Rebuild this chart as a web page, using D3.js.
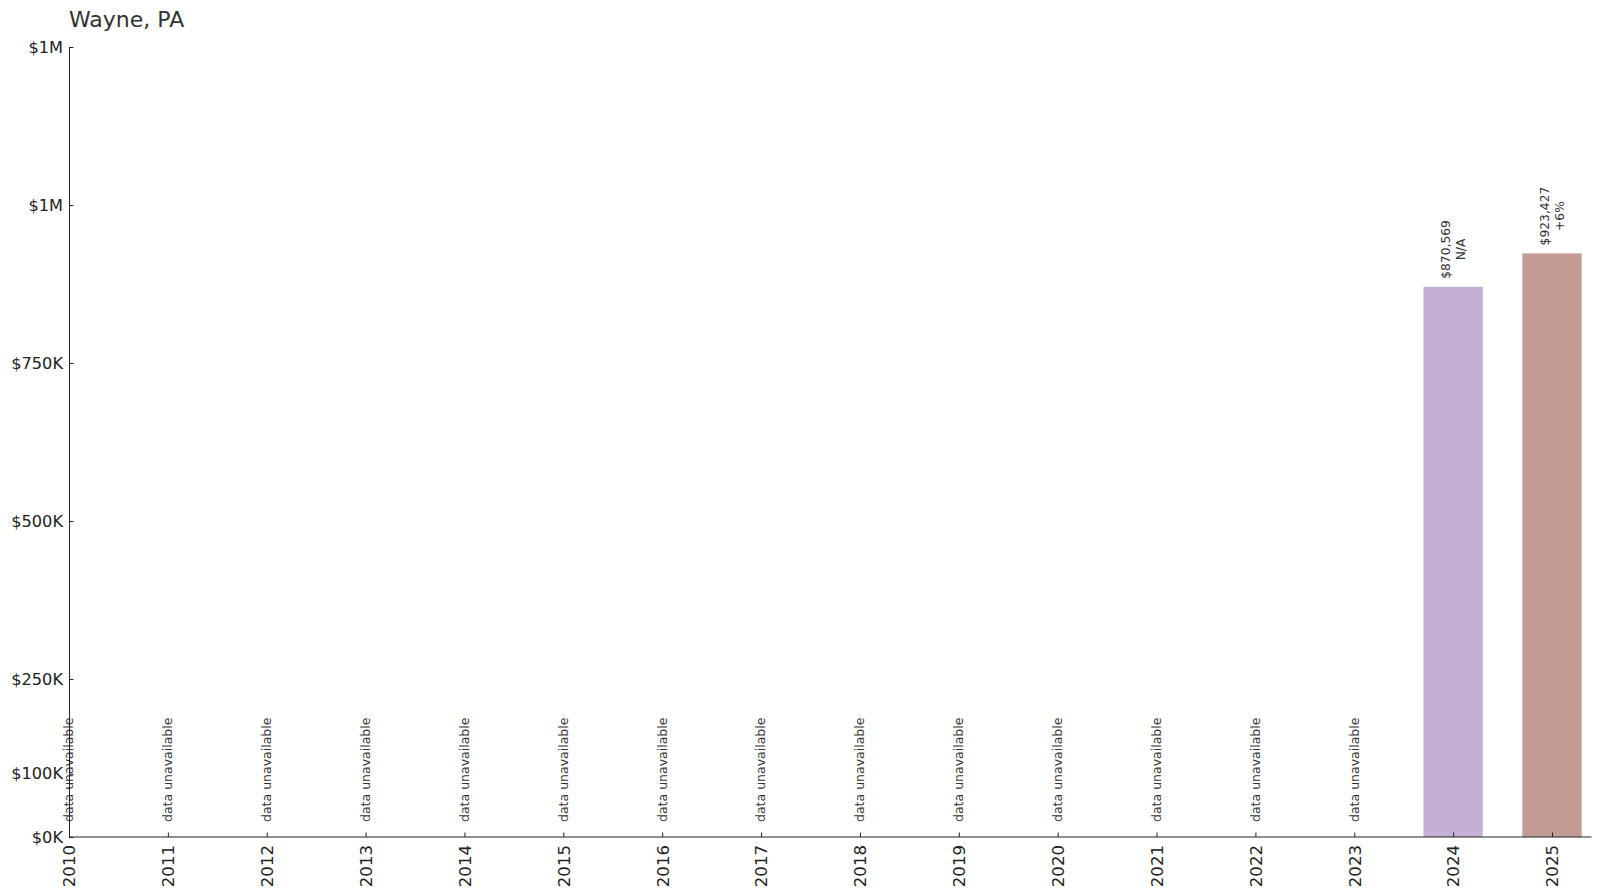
<!DOCTYPE html>
<html>
<head>
<meta charset="utf-8">
<script src="https://cdn.jsdelivr.net/npm/d3@7"></script>
<style>
  body { margin: 0; background: #fff; }
  svg { display: block; font-family: "DejaVu Sans", sans-serif; }
</style>
</head>
<body>
<div id="chart"></div>
<script>
var title = "Wayne, PA";

var years = [2010, 2011, 2012, 2013, 2014, 2015, 2016, 2017, 2018, 2019, 2020, 2021, 2022, 2023, 2024, 2025];
var values = [null, null, null, null, null, null, null, null, null, null, null, null, null, null, 870569, 923427];
var changes = [null, null, null, null, null, null, null, null, null, null, null, null, null, null, "N/A", "+6%"];
var barColors = {2024: "#c5b0d5", 2025: "#c49c94"};

var yTicks = [0, 100000, 250000, 500000, 750000, 1000000, 1250000];
var yTickLabels = ["$0K", "$100K", "$250K", "$500K", "$750K", "$1M", "$1M"];

var width = 1600, height = 895;
var margin = {top: 47, left: 69, bottom: 58, right: 9};

var svg = d3.select("#chart").append("svg")
  .attr("width", width)
  .attr("height", height);

var plotH = height - margin.top - margin.bottom;

// years sit on a linear scale, first year on the y axis
var x = d3.scaleLinear()
  .domain([years[0], years[years.length - 1]])
  .range([margin.left, 1552]);
var step = x(years[1]) - x(years[0]);
var barW = step * 0.6;
var xEnd = x(years[years.length - 1]) + step * 0.4;

var y = d3.scaleLinear()
  .domain([0, yTicks[yTicks.length - 1]])
  .range([margin.top + plotH, margin.top]);

// title
svg.append("text")
  .attr("x", margin.left)
  .attr("y", 27)
  .attr("font-size", 22)
  .attr("fill", "#333")
  .text(title);

// bars
var rows = years.map(function(d, i) {
  return {year: d, value: values[i], change: changes[i]};
});

svg.selectAll(".bar")
  .data(rows.filter(function(d) { return d.value != null; }))
  .enter()
  .append("rect")
  .attr("class", "bar")
  .attr("x", function(d) { return x(d.year) - barW / 2; })
  .attr("y", function(d) { return y(d.value); })
  .attr("width", barW)
  .attr("height", function(d) { return y(0) - y(d.value); })
  .attr("fill", function(d) { return barColors[d.year]; });

// value labels above bars (rotated, two lines)
var lab = svg.selectAll(".lab")
  .data(rows.filter(function(d) { return d.value != null; }))
  .enter()
  .append("g")
  .attr("class", "lab")
  .attr("transform", function(d) {
    return "translate(" + x(d.year) + "," + (y(d.value) - 8) + ") rotate(-90)";
  });

lab.each(function(d) {
  var g = d3.select(this);
  var t1 = g.append("text")
    .attr("font-size", 12.3)
    .attr("fill", "#333")
    .attr("text-anchor", "middle")
    .attr("y", -3)
    .text("$" + d3.format(",")(d.value));
  var w = t1.node().getComputedTextLength();
  t1.attr("x", w / 2);
  g.append("text")
    .attr("font-size", 12.3)
    .attr("fill", "#333")
    .attr("text-anchor", "middle")
    .attr("x", w / 2)
    .attr("y", 12)
    .text(d.change);
});

// missing data labels
svg.selectAll(".na")
  .data(rows.filter(function(d) { return d.value == null; }))
  .enter()
  .append("text")
  .attr("class", "na")
  .attr("transform", function(d) {
    return "translate(" + x(d.year) + "," + (y(0) - 15) + ") rotate(-90)";
  })
  .attr("dy", "0.35em")
  .attr("font-size", 12.5)
  .attr("fill", "#333")
  .text("data unavailable");

// y axis
var yAxis = svg.append("g")
  .attr("transform", "translate(" + margin.left + ",0)")
  .call(d3.axisLeft(y)
    .tickValues(yTicks)
    .tickFormat(function(d, i) { return yTickLabels[i]; })
    .tickSizeInner(-4.5)
    .tickSizeOuter(0)
    .tickPadding(6));
yAxis.select(".domain").attr("stroke", "#222");
yAxis.selectAll(".tick line").attr("stroke", "#222");
yAxis.selectAll(".tick text")
  .attr("font-family", "DejaVu Sans")
  .attr("font-size", 16.2)
  .attr("fill", "#222");

// x axis
var xAxis = svg.append("g")
  .attr("transform", "translate(0," + y(0) + ")")
  .call(d3.axisBottom(x)
    .tickValues(years)
    .tickFormat(d3.format("d"))
    .tickSizeInner(-4.5)
    .tickSizeOuter(0));
xAxis.select(".domain")
  .attr("stroke", "#222")
  .attr("d", "M" + margin.left + ",0H" + xEnd);
xAxis.selectAll(".tick line").attr("stroke", "#222");
xAxis.selectAll(".tick text")
  .attr("font-family", "DejaVu Sans")
  .attr("font-size", 16.6)
  .attr("fill", "#222")
  .attr("text-anchor", "end")
  .attr("transform", "rotate(-90)")
  .attr("x", -8)
  .attr("y", 0)
  .attr("dy", "0.35em");
</script>
</body>
</html>
